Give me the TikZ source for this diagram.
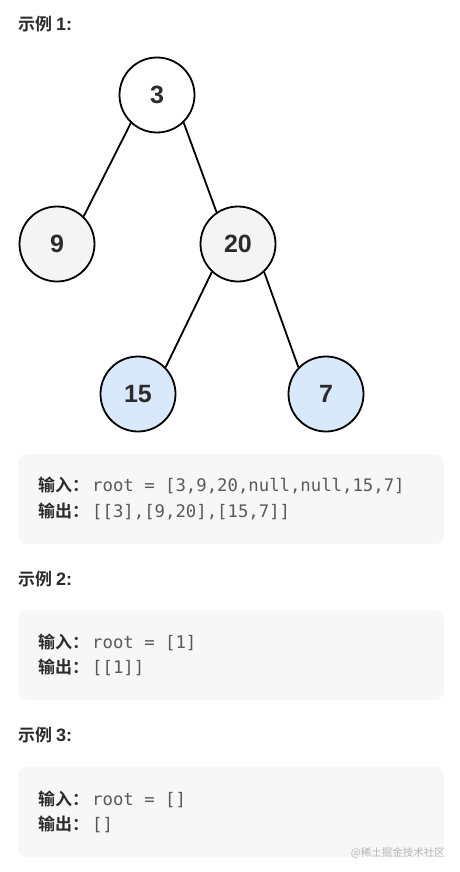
\documentclass[tikz,border=0pt]{standalone}
\usepackage{fontspec}
\setmainfont{Liberation Sans}
\setmonofont{DejaVu Sans Mono}
\newfontfamily\cjk{Noto Sans CJK SC}
\newfontfamily\cjkb{Noto Sans CJK SC Bold}
\definecolor{txt}{HTML}{2B2B2B}
\definecolor{codec}{HTML}{595959}
\definecolor{boxbg}{HTML}{F7F7F7}
\definecolor{gray1}{HTML}{F4F4F4}
\definecolor{blue1}{HTML}{DAE8FC}
\definecolor{wm}{HTML}{B5B5B5}
\tikzset{
  tnode/.style={circle,draw=black,line width=1.8pt,minimum size=75pt,inner sep=0pt,
    font=\fontsize{25}{25}\selectfont\bfseries,text=txt},
  edge/.style={line width=1.8pt,black},
  title/.style={anchor=base west,inner sep=0pt,text=txt,font=\fontsize{17}{20}\selectfont\cjkb},
  lab/.style={anchor=base west,inner sep=0pt,text=txt,font=\fontsize{17}{20}\selectfont\cjkb},
  code/.style={anchor=base west,inner sep=0pt,text=codec,font=\fontsize{17.3}{20}\selectfont\ttfamily},
  panel/.style={fill=boxbg,draw=none,rounded corners=9pt},
}
\begin{document}
\begin{tikzpicture}[x=1pt,y=1pt]
\useasboundingbox[fill=white] (0,0) rectangle (459,-872);

\node[title] (t1) at (18,-31) {示例 {\fontsize{18}{20}\selectfont\rmfamily\bfseries 1:}};

\node[tnode,fill=white] (n3) at (157,-95) {3};
\node[tnode,fill=gray1] (n9) at (57,-244) {9};
\node[tnode,fill=gray1] (n20) at (238,-244) {20};
\node[tnode,fill=blue1] (n15) at (138,-394) {15};
\node[tnode,fill=blue1] (n7) at (326,-394) {7};
\draw[edge] (n3.227) -- (n9.46);
\draw[edge] (n3.-46) -- (n20.124);
\draw[edge] (n20.-133) -- (n15.44);
\draw[edge] (n20.-47) -- (n7.136);

\path[panel] (18,-454) rectangle (444,-544);
\node[lab] (i1) at (38,-491) {输入：};
\node[code] (c1) at (92,-491) {root = [3,9,20,null,null,15,7]};
\node[lab] (o1) at (38,-517) {输出：};
\node[code] (d1) at (92,-517) {[[3],[9,20],[15,7]]};

\node[title] (t2) at (18,-585) {示例 {\fontsize{18}{20}\selectfont\rmfamily\bfseries 2:}};
\path[panel] (18,-610) rectangle (444,-700);
\node[lab] (i2) at (38,-648) {输入：};
\node[code] (c2) at (92,-648) {root = [1]};
\node[lab] (o2) at (38,-673) {输出：};
\node[code] (d2) at (92,-673) {[[1]]};

\node[title] (t3) at (18,-741) {示例 {\fontsize{18}{20}\selectfont\rmfamily\bfseries 3:}};
\path[panel] (18,-767) rectangle (444,-857);
\node[lab] (i3) at (38,-805) {输入：};
\node[code] (c3) at (92,-805) {root = []};
\node[lab] (o3) at (38,-830) {输出：};
\node[code] (d3) at (92,-830) {[]};

\node[anchor=base east,inner sep=0pt,text=wm,font=\fontsize{10.5}{12}\selectfont\cjk] (wmk) at (445,-856) {@稀土掘金技术社区};
\end{tikzpicture}
\end{document}
